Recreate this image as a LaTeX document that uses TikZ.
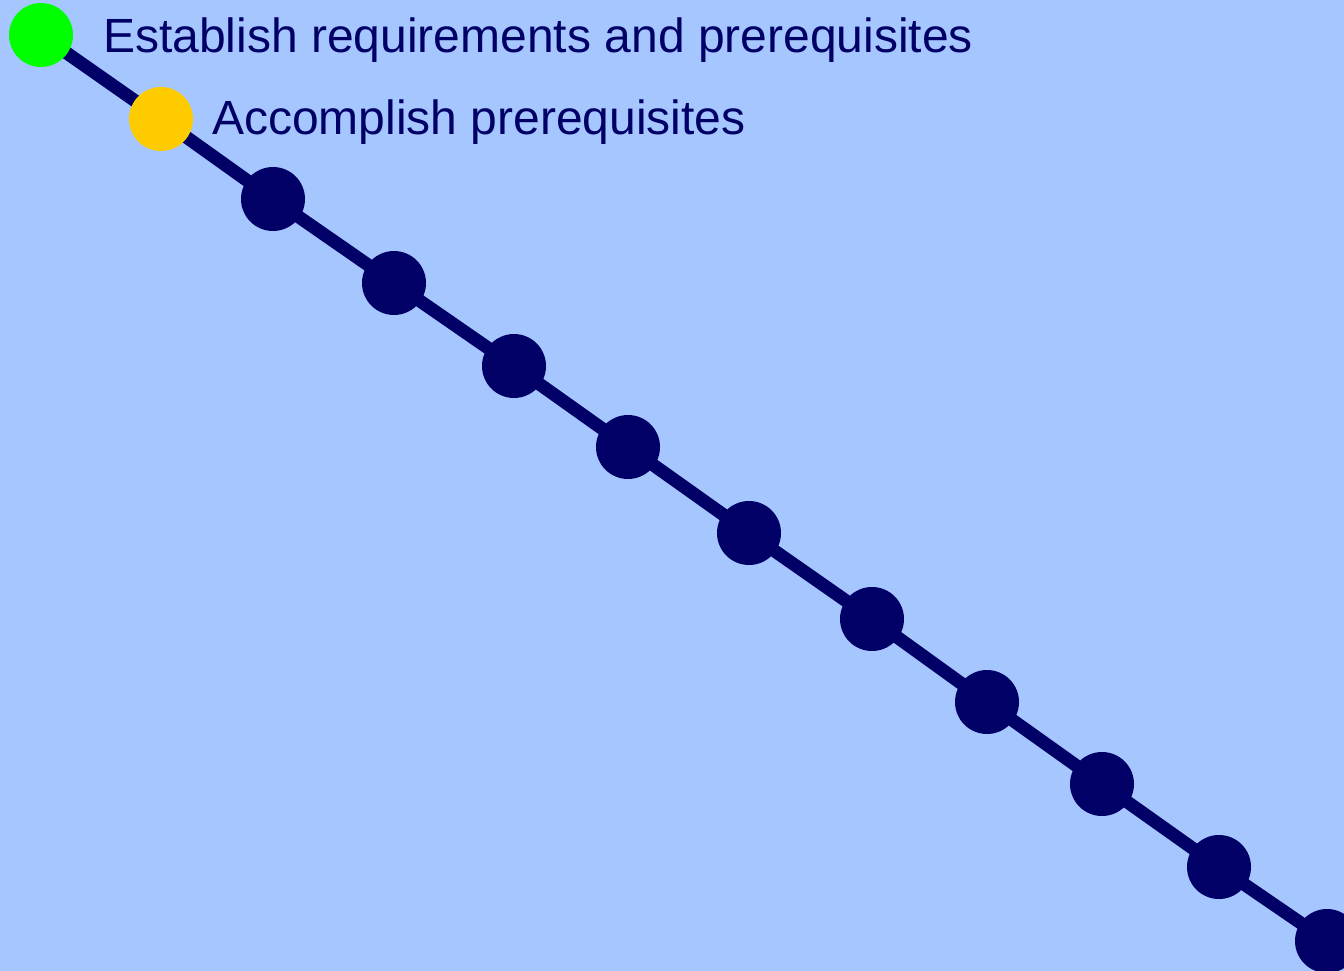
\documentclass[tikz,border=0pt]{standalone}
\usepackage{fontspec}
\setmainfont{Liberation Sans}
\definecolor{bg}{HTML}{A6C6FF}
\definecolor{navy}{HTML}{000066}
\definecolor{grn}{HTML}{00FF00}
\definecolor{ylw}{HTML}{FFCC00}
\begin{document}
\begin{tikzpicture}[x=1pt,y=-1pt,
  dot/.style={circle,inner sep=0pt,minimum size=64pt,fill=navy},
  lbl/.style={inner sep=0pt,anchor=base west,text=navy,font=\fontsize{48}{57}\selectfont},
  link/.style={draw=navy,line width=13pt}]
\fill[bg] (0,0) rectangle (1344,971);
\useasboundingbox (0,0) rectangle (1344,971);
\coordinate (p1) at (41,35);
\coordinate (p2) at (161,119);
\coordinate (p3) at (273,199);
\coordinate (p4) at (394,283);
\coordinate (p5) at (514,366);
\coordinate (p6) at (628,447);
\coordinate (p7) at (749,533);
\coordinate (p8) at (872,619);
\coordinate (p9) at (987,702);
\coordinate (p10) at (1102,784);
\coordinate (p11) at (1219,867);
\coordinate (p12) at (1327,941);
\draw[link] (p1) -- (p2) -- (p3) -- (p4) -- (p5) -- (p6) -- (p7) -- (p8) -- (p9) -- (p10) -- (p11) -- (p12);
\node[dot,fill=grn] (n1) at (p1) {};
\node[dot,fill=ylw] (n2) at (p2) {};
\foreach \i in {3,...,12} { \node[dot] (n\i) at (p\i) {}; }
\node[lbl] (t1) at (103,53) {Establish requirements and prerequisites};
\node[lbl] (t2) at (212,135) {Accomplish prerequisites};
\end{tikzpicture}
\end{document}
